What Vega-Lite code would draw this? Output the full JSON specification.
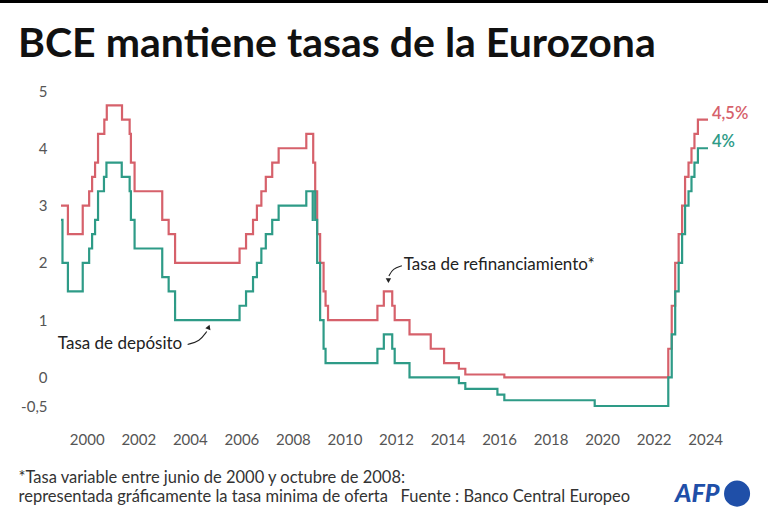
{
  "$schema": "https://vega.github.io/schema/vega-lite/v6.json",
  "width": 647,
  "height": 315,
  "autosize": {"type": "none"},
  "padding": {"left": 61, "top": 91, "right": 60, "bottom": 121},
  "background": "white",
  "title": {
    "text": "BCE mantiene tasas de la Eurozona",
    "anchor": "start",
    "frame": "group",
    "dx": -43,
    "offset": -99,
    "baseline": "alphabetic",
    "font": "Lato",
    "fontSize": 41,
    "fontWeight": "bold",
    "color": "#111111"
  },
  "config": {
    "view": {"stroke": null},
    "font": "Lato",
    "axis": {"labelFont": "Lato", "titleFont": "Lato"}
  },
  "datasets": {
    "tasas": [
      {"fecha": "1999-01-01", "valor": 3.00, "serie": "Refinanciamiento"},
      {"fecha": "1999-04-09", "valor": 2.50, "serie": "Refinanciamiento"},
      {"fecha": "1999-11-05", "valor": 3.00, "serie": "Refinanciamiento"},
      {"fecha": "2000-02-04", "valor": 3.25, "serie": "Refinanciamiento"},
      {"fecha": "2000-03-17", "valor": 3.50, "serie": "Refinanciamiento"},
      {"fecha": "2000-04-28", "valor": 3.75, "serie": "Refinanciamiento"},
      {"fecha": "2000-06-09", "valor": 4.25, "serie": "Refinanciamiento"},
      {"fecha": "2000-09-06", "valor": 4.50, "serie": "Refinanciamiento"},
      {"fecha": "2000-10-11", "valor": 4.75, "serie": "Refinanciamiento"},
      {"fecha": "2001-05-15", "valor": 4.50, "serie": "Refinanciamiento"},
      {"fecha": "2001-08-31", "valor": 4.25, "serie": "Refinanciamiento"},
      {"fecha": "2001-09-18", "valor": 3.75, "serie": "Refinanciamiento"},
      {"fecha": "2001-11-09", "valor": 3.25, "serie": "Refinanciamiento"},
      {"fecha": "2002-12-06", "valor": 2.75, "serie": "Refinanciamiento"},
      {"fecha": "2003-03-07", "valor": 2.50, "serie": "Refinanciamiento"},
      {"fecha": "2003-06-06", "valor": 2.00, "serie": "Refinanciamiento"},
      {"fecha": "2005-12-06", "valor": 2.25, "serie": "Refinanciamiento"},
      {"fecha": "2006-03-08", "valor": 2.50, "serie": "Refinanciamiento"},
      {"fecha": "2006-06-15", "valor": 2.75, "serie": "Refinanciamiento"},
      {"fecha": "2006-08-09", "valor": 3.00, "serie": "Refinanciamiento"},
      {"fecha": "2006-10-11", "valor": 3.25, "serie": "Refinanciamiento"},
      {"fecha": "2006-12-13", "valor": 3.50, "serie": "Refinanciamiento"},
      {"fecha": "2007-03-14", "valor": 3.75, "serie": "Refinanciamiento"},
      {"fecha": "2007-06-13", "valor": 4.00, "serie": "Refinanciamiento"},
      {"fecha": "2008-07-09", "valor": 4.25, "serie": "Refinanciamiento"},
      {"fecha": "2008-10-15", "valor": 3.75, "serie": "Refinanciamiento"},
      {"fecha": "2008-11-12", "valor": 3.25, "serie": "Refinanciamiento"},
      {"fecha": "2008-12-10", "valor": 2.50, "serie": "Refinanciamiento"},
      {"fecha": "2009-01-21", "valor": 2.00, "serie": "Refinanciamiento"},
      {"fecha": "2009-03-11", "valor": 1.50, "serie": "Refinanciamiento"},
      {"fecha": "2009-04-08", "valor": 1.25, "serie": "Refinanciamiento"},
      {"fecha": "2009-05-13", "valor": 1.00, "serie": "Refinanciamiento"},
      {"fecha": "2011-04-13", "valor": 1.25, "serie": "Refinanciamiento"},
      {"fecha": "2011-07-13", "valor": 1.50, "serie": "Refinanciamiento"},
      {"fecha": "2011-11-09", "valor": 1.25, "serie": "Refinanciamiento"},
      {"fecha": "2011-12-14", "valor": 1.00, "serie": "Refinanciamiento"},
      {"fecha": "2012-07-11", "valor": 0.75, "serie": "Refinanciamiento"},
      {"fecha": "2013-05-08", "valor": 0.50, "serie": "Refinanciamiento"},
      {"fecha": "2013-11-13", "valor": 0.25, "serie": "Refinanciamiento"},
      {"fecha": "2014-06-11", "valor": 0.15, "serie": "Refinanciamiento"},
      {"fecha": "2014-09-10", "valor": 0.05, "serie": "Refinanciamiento"},
      {"fecha": "2016-03-16", "valor": 0.00, "serie": "Refinanciamiento"},
      {"fecha": "2022-07-27", "valor": 0.50, "serie": "Refinanciamiento"},
      {"fecha": "2022-09-14", "valor": 1.25, "serie": "Refinanciamiento"},
      {"fecha": "2022-11-02", "valor": 2.00, "serie": "Refinanciamiento"},
      {"fecha": "2022-12-21", "valor": 2.50, "serie": "Refinanciamiento"},
      {"fecha": "2023-02-08", "valor": 3.00, "serie": "Refinanciamiento"},
      {"fecha": "2023-03-22", "valor": 3.50, "serie": "Refinanciamiento"},
      {"fecha": "2023-05-10", "valor": 3.75, "serie": "Refinanciamiento"},
      {"fecha": "2023-06-21", "valor": 4.00, "serie": "Refinanciamiento"},
      {"fecha": "2023-08-02", "valor": 4.25, "serie": "Refinanciamiento"},
      {"fecha": "2023-09-20", "valor": 4.50, "serie": "Refinanciamiento"},
      {"fecha": "2024-02-10", "valor": 4.50, "serie": "Refinanciamiento"},
      {"fecha": "1999-01-01", "valor": 2.75, "serie": "Depósito"},
      {"fecha": "1999-01-22", "valor": 2.00, "serie": "Depósito"},
      {"fecha": "1999-04-09", "valor": 1.50, "serie": "Depósito"},
      {"fecha": "1999-11-05", "valor": 2.00, "serie": "Depósito"},
      {"fecha": "2000-02-04", "valor": 2.25, "serie": "Depósito"},
      {"fecha": "2000-03-17", "valor": 2.50, "serie": "Depósito"},
      {"fecha": "2000-04-28", "valor": 2.75, "serie": "Depósito"},
      {"fecha": "2000-06-09", "valor": 3.25, "serie": "Depósito"},
      {"fecha": "2000-09-01", "valor": 3.50, "serie": "Depósito"},
      {"fecha": "2000-10-06", "valor": 3.75, "serie": "Depósito"},
      {"fecha": "2001-05-11", "valor": 3.50, "serie": "Depósito"},
      {"fecha": "2001-08-31", "valor": 3.25, "serie": "Depósito"},
      {"fecha": "2001-09-18", "valor": 2.75, "serie": "Depósito"},
      {"fecha": "2001-11-09", "valor": 2.25, "serie": "Depósito"},
      {"fecha": "2002-12-06", "valor": 1.75, "serie": "Depósito"},
      {"fecha": "2003-03-07", "valor": 1.50, "serie": "Depósito"},
      {"fecha": "2003-06-06", "valor": 1.00, "serie": "Depósito"},
      {"fecha": "2005-12-06", "valor": 1.25, "serie": "Depósito"},
      {"fecha": "2006-03-08", "valor": 1.50, "serie": "Depósito"},
      {"fecha": "2006-06-15", "valor": 1.75, "serie": "Depósito"},
      {"fecha": "2006-08-09", "valor": 2.00, "serie": "Depósito"},
      {"fecha": "2006-10-11", "valor": 2.25, "serie": "Depósito"},
      {"fecha": "2006-12-13", "valor": 2.50, "serie": "Depósito"},
      {"fecha": "2007-03-14", "valor": 2.75, "serie": "Depósito"},
      {"fecha": "2007-06-13", "valor": 3.00, "serie": "Depósito"},
      {"fecha": "2008-07-09", "valor": 3.25, "serie": "Depósito"},
      {"fecha": "2008-10-08", "valor": 2.75, "serie": "Depósito"},
      {"fecha": "2008-10-09", "valor": 3.25, "serie": "Depósito"},
      {"fecha": "2008-11-12", "valor": 2.75, "serie": "Depósito"},
      {"fecha": "2008-12-10", "valor": 2.00, "serie": "Depósito"},
      {"fecha": "2009-01-21", "valor": 1.00, "serie": "Depósito"},
      {"fecha": "2009-03-11", "valor": 0.50, "serie": "Depósito"},
      {"fecha": "2009-04-08", "valor": 0.25, "serie": "Depósito"},
      {"fecha": "2011-04-13", "valor": 0.50, "serie": "Depósito"},
      {"fecha": "2011-07-13", "valor": 0.75, "serie": "Depósito"},
      {"fecha": "2011-11-09", "valor": 0.50, "serie": "Depósito"},
      {"fecha": "2011-12-14", "valor": 0.25, "serie": "Depósito"},
      {"fecha": "2012-07-11", "valor": 0.00, "serie": "Depósito"},
      {"fecha": "2014-06-11", "valor": -0.10, "serie": "Depósito"},
      {"fecha": "2014-09-10", "valor": -0.20, "serie": "Depósito"},
      {"fecha": "2015-12-09", "valor": -0.30, "serie": "Depósito"},
      {"fecha": "2016-03-16", "valor": -0.40, "serie": "Depósito"},
      {"fecha": "2019-09-18", "valor": -0.50, "serie": "Depósito"},
      {"fecha": "2022-07-27", "valor": 0.00, "serie": "Depósito"},
      {"fecha": "2022-09-14", "valor": 0.75, "serie": "Depósito"},
      {"fecha": "2022-11-02", "valor": 1.50, "serie": "Depósito"},
      {"fecha": "2022-12-21", "valor": 2.00, "serie": "Depósito"},
      {"fecha": "2023-02-08", "valor": 2.50, "serie": "Depósito"},
      {"fecha": "2023-03-22", "valor": 3.00, "serie": "Depósito"},
      {"fecha": "2023-05-10", "valor": 3.25, "serie": "Depósito"},
      {"fecha": "2023-06-21", "valor": 3.50, "serie": "Depósito"},
      {"fecha": "2023-08-02", "valor": 3.75, "serie": "Depósito"},
      {"fecha": "2023-09-20", "valor": 4.00, "serie": "Depósito"},
      {"fecha": "2024-02-10", "valor": 4.00, "serie": "Depósito"}
    ],
    "finales": [
      {"fecha": "2024-02-10", "valor": 4.5, "serie": "Refinanciamiento", "etiqueta": "4,5%"},
      {"fecha": "2024-02-10", "valor": 4.0, "serie": "Depósito", "etiqueta": "4%"}
    ],
    "notas": [
      {"fecha": "2012-04-20", "valor": 1.97, "etiqueta": "Tasa de refinanciamiento*"},
      {"fecha": "1998-11-17", "valor": 0.59, "etiqueta": "Tasa de depósito"}
    ],
    "flechas": [
      {"flecha": "deposito", "orden": 1, "fecha": "2003-12-01", "valor": 0.575},
      {"flecha": "deposito", "orden": 2, "fecha": "2004-05-20", "valor": 0.63},
      {"flecha": "deposito", "orden": 3, "fecha": "2004-08-28", "valor": 0.80},
      {"flecha": "refi", "orden": 1, "fecha": "2012-03-25", "valor": 1.95},
      {"flecha": "refi", "orden": 2, "fecha": "2011-11-17", "valor": 1.90},
      {"flecha": "refi", "orden": 3, "fecha": "2011-09-23", "valor": 1.77}
    ]
  },
  "layer": [
    {
      "data": {"values": [{}]},
      "mark": {"type": "rule", "color": "#000000", "strokeWidth": 4},
      "encoding": {
        "x": {"datum": {"year": 1996, "month": 6, "date": 1}, "type": "temporal"},
        "x2": {"datum": {"year": 2026, "month": 9, "date": 1}},
        "y": {"datum": 6.57, "type": "quantitative"}
      }
    },
    {
      "data": {"name": "tasas"},
      "mark": {"type": "line", "interpolate": "step-after", "strokeWidth": 2.2},
      "encoding": {
        "x": {
          "field": "fecha",
          "type": "temporal",
          "scale": {"domain": ["1999-01-01", "2024-02-10"]},
          "axis": {
            "format": "%Y",
            "tickCount": {"interval": "year", "step": 2},
            "domain": false,
            "ticks": false,
            "tickSize": 0,
            "grid": false,
            "labelPadding": 26,
            "labelFontSize": 15,
            "labelColor": "#555555",
            "labelFlush": false,
            "title": ["*Tasa variable entre junio de 2000 y octubre de 2008:", "representada gráficamente la tasa minima de oferta\u00a0\u00a0\u00a0Fuente : Banco Central Europeo"],
            "titleAnchor": "start",
            "titleAlign": "left",
            "titleBaseline": "top",
            "titleX": -43,
            "titleY": 63,
            "titleFontSize": 16.5,
            "titleFontWeight": "normal",
            "titleColor": "#333333",
            "titleLineHeight": 19
          }
        },
        "y": {
          "field": "valor",
          "type": "quantitative",
          "scale": {"domain": [-0.5, 5], "nice": false, "zero": false},
          "axis": {
            "values": [-0.5, 0, 1, 2, 3, 4, 5],
            "labelExpr": "replace(toString(datum.value), '.', ',')",
            "domain": false,
            "ticks": false,
            "labelPadding": 14,
            "labelFontSize": 15,
            "labelColor": "#555555",
            "gridColor": {"condition": {"test": "datum.value === 0", "value": "#999999"}, "value": "#dddddd"},
            "gridWidth": {"condition": {"test": "datum.value === 0", "value": 1.6}, "value": 1},
            "title": null
          }
        },
        "color": {
          "field": "serie",
          "type": "nominal",
          "scale": {"domain": ["Refinanciamiento", "Depósito"], "range": ["#d6616b", "#2e9b87"]},
          "legend": null
        },
        "order": {"field": "fecha", "type": "temporal"}
      }
    },
    {
      "data": {"name": "finales"},
      "mark": {"type": "text", "align": "left", "dx": 4, "dy": -6, "fontSize": 16.5, "fontWeight": 600},
      "encoding": {
        "x": {"field": "fecha", "type": "temporal"},
        "y": {"field": "valor", "type": "quantitative"},
        "text": {"field": "etiqueta"},
        "color": {"field": "serie", "type": "nominal", "legend": null}
      }
    },
    {
      "data": {"name": "notas"},
      "mark": {"type": "text", "align": "left", "baseline": "middle", "fontSize": 17, "color": "#222222"},
      "encoding": {
        "x": {"field": "fecha", "type": "temporal"},
        "y": {"field": "valor", "type": "quantitative"},
        "text": {"field": "etiqueta"}
      }
    },
    {
      "data": {"name": "flechas"},
      "mark": {"type": "line", "interpolate": "basis", "color": "#222222", "strokeWidth": 1.1},
      "encoding": {
        "x": {"field": "fecha", "type": "temporal"},
        "y": {"field": "valor", "type": "quantitative"},
        "detail": {"field": "flecha"},
        "order": {"field": "orden"}
      }
    },
    {
      "data": {"values": [{}]},
      "mark": {"type": "point", "shape": "triangle-up", "filled": true, "color": "#222222", "size": 30, "angle": 20, "opacity": 1},
      "encoding": {
        "x": {"datum": {"year": 2004, "month": 9, "date": 25}, "type": "temporal"},
        "y": {"datum": 0.88, "type": "quantitative"}
      }
    },
    {
      "data": {"values": [{}]},
      "mark": {"type": "point", "shape": "triangle-down", "filled": true, "color": "#222222", "size": 30, "angle": 0, "opacity": 1},
      "encoding": {
        "x": {"datum": {"year": 2011, "month": 9, "date": 16}, "type": "temporal"},
        "y": {"datum": 1.69, "type": "quantitative"}
      }
    },
    {
      "data": {"values": [{}]},
      "mark": {"type": "text", "text": "AFP", "font": "Lato", "fontSize": 25, "fontWeight": 900, "fontStyle": "italic", "color": "#1f4fa8", "align": "center", "baseline": "middle"},
      "encoding": {
        "x": {"datum": {"year": 2023, "month": 9, "date": 10}, "type": "temporal"},
        "y": {"datum": -2.03, "type": "quantitative"}
      }
    },
    {
      "data": {"values": [{}]},
      "mark": {"type": "point", "shape": "circle", "filled": true, "color": "#1f4fa8", "size": 680, "opacity": 1},
      "encoding": {
        "x": {"datum": {"year": 2025, "month": 3, "date": 28}, "type": "temporal"},
        "y": {"datum": -2.03, "type": "quantitative"}
      }
    }
  ]
}
